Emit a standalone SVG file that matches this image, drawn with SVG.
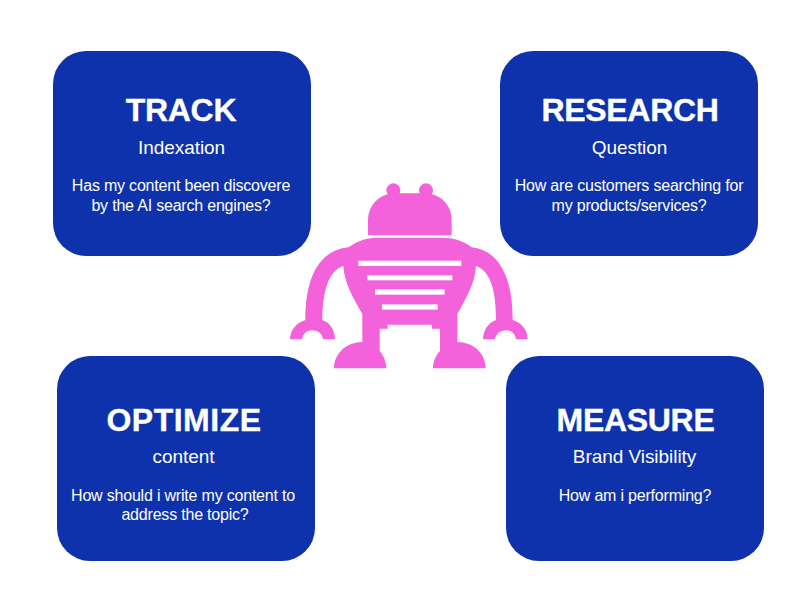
<svg xmlns="http://www.w3.org/2000/svg" width="804" height="605" viewBox="0 0 804 605">
<style>
.card{fill:#0d32ac}
text{fill:#fff;font-family:"Liberation Sans",Arial,sans-serif;text-anchor:middle}
.t{font-size:32px;font-weight:700;letter-spacing:-.3px;stroke:#fff;stroke-width:.35px}
.s{font-size:19px;letter-spacing:-.05px}
.b{font-size:16px;letter-spacing:-.2px}
</style>
<rect width="804" height="605" fill="#fff"/>
<g id="track"><rect class="card" x="53" y="51" width="258" height="205" rx="33"/>
<text class="t" x="181" y="121">TRACK</text><text class="s" x="181.500" y="154">Indexation</text>
<text class="b" x="181" y="191">Has my content been discovere</text><text class="b" x="181" y="211">by the AI search engines?</text></g>
<g id="research"><rect class="card" x="500" y="51" width="258" height="205" rx="33"/>
<text class="t" x="630" y="121">RESEARCH</text><text class="s" x="629.500" y="154">Question</text>
<text class="b" x="629" y="191">How are customers searching for</text><text class="b" x="629" y="211">my products/services?</text></g>
<g id="optimize"><rect class="card" x="57" y="356" width="258" height="205" rx="33"/>
<text class="t" x="184" y="431" style="letter-spacing:.5px">OPTIMIZE</text><text class="s" x="183.500" y="463">content</text>
<text class="b" x="183" y="501">How should i write my content to</text><text class="b" x="185" y="520">address the topic?</text></g>
<g id="measure"><rect class="card" x="506" y="356" width="258" height="205" rx="33"/>
<text class="t" x="635.500" y="431">MEASURE</text><text class="s" x="634.500" y="463">Brand Visibility</text>
<text class="b" x="635" y="501">How am i performing?</text></g>
<g id="robot" transform="translate(280 170) scale(.33333)">
<g fill="#f362da">
<circle cx="340" cy="61" r="21"/><circle cx="438" cy="61" r="21"/>
<path d="M264 196V150C264 105 300 70 345 70H434C480 70 515 105 515 150V196Z"/>
<path d="M205 232C235 210 265 203 295 203H485C520 203 550 212 575 232C650 240 698 310 698 450C725 458 743 480 743 508H708C705 490 695 481 678 481C660 481 648 492 645 508H609C610 480 625 458 648 450C648 370 635 305 588 288C585 340 560 380 532 432V516C580 516 617 550 617 595H459C459 575 468 555 480 543V476H456V464H323V476H299V543C310 555 319 575 319 595H162C162 550 200 516 247 516V432C220 385 193 340 190 288C145 300 127 370 127 450C150 458 165 480 165 508H129C127 492 115 481 97 481C80 481 70 490 66 508H30C30 480 50 458 76 450C76 310 125 240 205 232Z"/>
</g>
<g fill="#fff">
<rect x="235" y="272" width="309" height="16"/><rect x="262" y="316" width="255" height="15"/><rect x="285" y="358" width="209" height="16"/><rect x="306" y="403" width="167" height="16"/>
</g>
</g>
</svg>
